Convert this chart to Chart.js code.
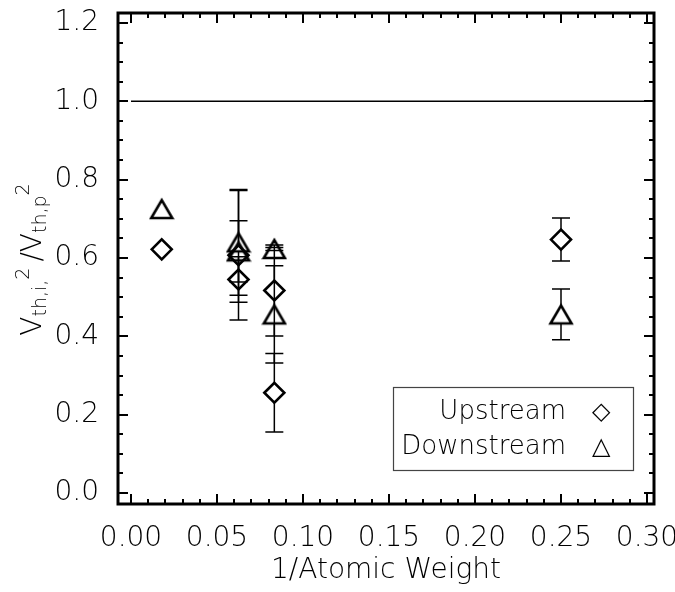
<!DOCTYPE html>
<html>
<head>
<meta charset="utf-8">
<script src="https://cdn.jsdelivr.net/npm/chart.js@4.4.1/dist/chart.umd.min.js"></script>
<style>
  html, body { margin: 0; padding: 0; background: #fff; }
</style>
</head>
<body>
<canvas id="c" width="675" height="592"></canvas>
<script>
// x = 1/atomic weight (Fe, O, O, C, C, He)
var upX   = [1/56, 1/16, 1/16, 1/12, 1/12, 1/4];
var upY   = [0.622, 0.607, 0.545, 0.517, 0.256, 0.647];
var upErr = [0, 0.165, 0.058, 0.116, 0.100, 0.055];

var downX   = [1/56, 1/16, 1/16, 1/12, 1/12, 1/4];
var downY   = [0.725, 0.640, 0.617, 0.623, 0.456, 0.456];
var downErr = [0, 0.135, 0.078, 0.004, 0.124, 0.065];

// reference line at ratio = 1
var refX = [0.0, 0.304];
var refY = [1.0, 1.0];

var xTicks = [0.00, 0.05, 0.10, 0.15, 0.20, 0.25, 0.30];
var yTicks = [0.0, 0.2, 0.4, 0.6, 0.8, 1.0, 1.2];
var legendLabels  = ["Upstream", "Downstream"];
var legendSymbols = ["\u25C7", "\u25B3"];

var FAMILY = "'DejaVu Sans', sans-serif";
var WEIGHT = "200";

// IDL-style triangle, centred on its bounding box
function makeTriangle() {
    var c = document.createElement("canvas");
    c.width = 26; c.height = 24;
    var g = c.getContext("2d");
    g.strokeStyle = "#000";
    g.lineWidth = 2.6;
    g.lineJoin = "miter";
    g.beginPath();
    g.moveTo(2.5, 21); g.lineTo(13, 3); g.lineTo(23.5, 21);
    g.closePath();
    g.stroke();
    return c;
}

function pts(xs, ys) {
    return xs.map(function(x, i) { return { x: x, y: ys[i] }; });
}

/* ── error bars, drawn under the markers ─────────────────────────────── */
var errorBars = {
    id: "errorBars",
    beforeDatasetsDraw: function(chart) {
        var xs = chart.scales.x, ys = chart.scales.y, ctx = chart.ctx;
        ctx.save();
        ctx.strokeStyle = "#000";
        ctx.lineWidth = 1.5;
        function draw(xv, yv, ev, gap) {
            for (var i = 0; i < xv.length; i++) {
                if (!ev[i]) continue;
                var px = xs.getPixelForValue(xv[i]);
                var py = ys.getPixelForValue(yv[i]);
                var hi = ys.getPixelForValue(yv[i] + ev[i]);
                var lo = ys.getPixelForValue(yv[i] - ev[i]);
                ctx.beginPath();
                if (hi < py - gap) { ctx.moveTo(px, hi); ctx.lineTo(px, py - gap); }
                if (lo > py + gap) { ctx.moveTo(px, py + gap); ctx.lineTo(px, lo); }
                ctx.moveTo(px - 9, hi); ctx.lineTo(px + 9, hi);
                ctx.moveTo(px - 9, lo); ctx.lineTo(px + 9, lo);
                ctx.stroke();
            }
        }
        draw(upX, upY, upErr, 10);
        draw(downX, downY, downErr, 9);
        ctx.restore();
    }
};

/* ── box frame with inward ticks on all four sides ───────────────────── */
var frame = {
    id: "frame",
    afterDatasetsDraw: function(chart) {
        var a = chart.chartArea, xs = chart.scales.x, ys = chart.scales.y, ctx = chart.ctx;
        ctx.save();
        ctx.strokeStyle = "#000";
        ctx.lineWidth = 2;
        ctx.beginPath();
        function xt(v, len) {
            var p = Math.round(xs.getPixelForValue(v));
            ctx.moveTo(p, a.bottom); ctx.lineTo(p, a.bottom - len);
            ctx.moveTo(p, a.top);    ctx.lineTo(p, a.top + len);
        }
        function yt(v, len) {
            var p = Math.round(ys.getPixelForValue(v));
            ctx.moveTo(a.left, p);  ctx.lineTo(a.left + len, p);
            ctx.moveTo(a.right, p); ctx.lineTo(a.right - len, p);
        }
        var i, k;
        for (i = 0; i < xTicks.length; i++) {
            xt(xTicks[i], 10);
            if (i < xTicks.length - 1) {
                for (k = 1; k < 5; k++) xt(xTicks[i] + (xTicks[i + 1] - xTicks[i]) * k / 5, 5);
            }
        }
        for (i = 0; i < yTicks.length; i++) {
            yt(yTicks[i], 10);
            if (i < yTicks.length - 1) {
                for (k = 1; k < 4; k++) yt(yTicks[i] + (yTicks[i + 1] - yTicks[i]) * k / 4, 5);
            }
        }
        ctx.stroke();
        ctx.lineWidth = 3;
        ctx.strokeRect(a.left, a.top, a.right - a.left, a.bottom - a.top);
        ctx.restore();
    }
};

/* ── y title with sub/superscripts, rotated ──────────────────────────── */
var yTitle = {
    id: "yTitle",
    afterDraw: function(chart) {
        var a = chart.chartArea, ctx = chart.ctx;
        var parts = [
            { t: "V",     s: 0 }, { t: "th,i,", s: -1 }, { t: "2 ", s: 1 },
            { t: "/V",    s: 0 }, { t: "th,p",  s: -1 }, { t: "2",  s: 1 }
        ];
        var fonts = {};
        fonts[0]  = WEIGHT + " 28px " + FAMILY;
        fonts[-1] = WEIGHT + " 19px " + FAMILY;
        fonts[1]  = WEIGHT + " 19px " + FAMILY;
        var shift = { "0": 0, "-1": 5, "1": -12 };
        ctx.save();
        var total = 0;
        parts.forEach(function(p) { ctx.font = fonts[p.s]; p.w = ctx.measureText(p.t).width; total += p.w; });
        ctx.translate(41, (a.top + a.bottom) / 2 + 1);
        ctx.rotate(-Math.PI / 2);
        ctx.fillStyle = "#000";
        ctx.textBaseline = "alphabetic";
        var x = -total / 2;
        parts.forEach(function(p) {
            ctx.font = fonts[p.s];
            ctx.fillText(p.t, x, shift[p.s]);
            x += p.w;
        });
        ctx.restore();
    }
};

/* ── boxed legend, lower right ───────────────────────────────────────── */
var boxLegend = {
    id: "boxLegend",
    afterDraw: function(chart) {
        var a = chart.chartArea, ctx = chart.ctx;
        var right = a.right - 21, bottom = a.bottom - 34, w = 240, h = 83;
        ctx.save();
        ctx.fillStyle = "#fff";
        ctx.fillRect(right - w, bottom - h, w, h);
        ctx.strokeStyle = "#444";
        ctx.lineWidth = 1.2;
        ctx.strokeRect(right - w + 0.5, bottom - h + 0.5, w, h);
        ctx.fillStyle = "#000";
        ctx.textBaseline = "alphabetic";
        for (var i = 0; i < legendLabels.length; i++) {
            var yb = bottom - h + 32 + i * 35;
            ctx.font = WEIGHT + " 26px " + FAMILY;
            ctx.textAlign = "right";
            ctx.fillText(legendLabels[i], right - 67, yb);
            ctx.font = WEIGHT + " 24px " + FAMILY;
            ctx.textAlign = "center";
            ctx.fillText(legendSymbols[i], right - 32, yb);
        }
        ctx.restore();
    }
};

var tickFont = { family: FAMILY, size: 28, weight: WEIGHT };

new Chart(document.getElementById("c"), {
    type: "scatter",
    data: {
        datasets: [
            {
                label: "ref",
                type: "line",
                data: pts(refX, refY),
                showLine: true,
                borderColor: "#000",
                borderWidth: 1.5,
                pointRadius: 0
            },
            {
                label: "Upstream",
                data: pts(upX, upY),
                pointStyle: "rectRot",
                pointRadius: 10,
                pointBorderWidth: 2.6,
                pointBorderColor: "#000",
                pointBackgroundColor: "rgba(0,0,0,0)"
            },
            {
                label: "Downstream",
                data: pts(downX, downY),
                pointStyle: makeTriangle(),
                pointRadius: 12,
                pointBorderColor: "#000",
                pointBackgroundColor: "rgba(0,0,0,0)"
            }
        ]
    },
    options: {
        responsive: false,
        animation: false,
        devicePixelRatio: 1,
        layout: { padding: { left: 0, top: 11, right: 21, bottom: 0 } },
        plugins: { legend: { display: false }, tooltip: { enabled: false } },
        scales: {
            x: {
                type: "linear",
                min: -0.00756,
                max: 0.30407,
                grid: { display: false },
                border: { display: false },
                afterBuildTicks: function(s) { s.ticks = xTicks.map(function(v) { return { value: v }; }); },
                afterFit: function(s) { s.height = 88; s.paddingLeft = 0; s.paddingRight = 0; },
                ticks: {
                    padding: 10,
                    color: "#000",
                    font: tickFont,
                    maxRotation: 0,
                    autoSkip: false,
                    callback: function(v) { return Number(v).toFixed(2); }
                },
                title: {
                    display: true,
                    text: "1/Atomic Weight",
                    color: "#000",
                    font: tickFont,
                    padding: { top: 0, bottom: 4 }
                }
            },
            y: {
                type: "linear",
                min: -0.028,
                max: 1.2254,
                grid: { display: false },
                border: { display: false },
                afterBuildTicks: function(s) { s.ticks = yTicks.map(function(v) { return { value: v }; }); },
                afterFit: function(s) { s.width = 118; s.paddingTop = 0; s.paddingBottom = 0; },
                ticks: {
                    padding: 11,
                    color: "#000",
                    font: tickFont,
                    autoSkip: false,
                    callback: function(v) { return Number(v).toFixed(1); }
                }
            }
        }
    },
    plugins: [errorBars, frame, yTitle, boxLegend]
});
</script>
</body>
</html>
